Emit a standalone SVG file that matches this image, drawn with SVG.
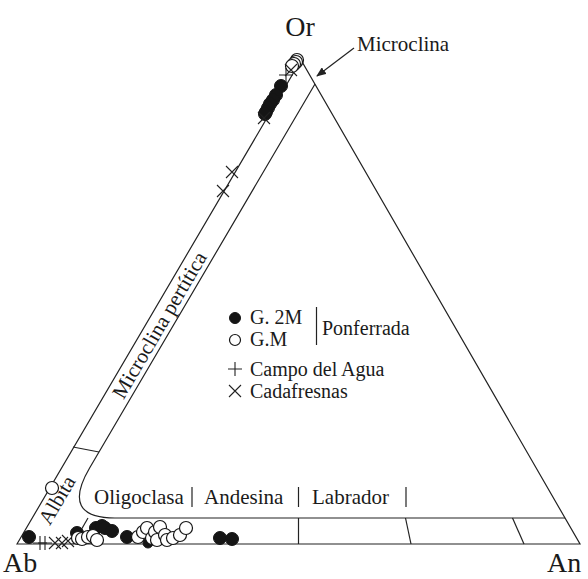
<svg xmlns="http://www.w3.org/2000/svg" width="588" height="579" viewBox="0 0 588 579">
<defs>
<style>
.ln{fill:none;stroke:#222;stroke-width:1.2}
.t{font-family:"Liberation Serif","Times New Roman",serif;fill:#1a1a1a;font-size:21px}
.lg{font-size:20px}
.big{font-size:28px}
.f{fill:#151515;stroke:#151515;stroke-width:1}
.o{fill:#fff;stroke:#151515;stroke-width:1.2}
.m{stroke:#222;stroke-width:1.1;fill:none}
</style>
<marker id="ah" markerWidth="10" markerHeight="8" refX="9" refY="4" orient="auto" markerUnits="userSpaceOnUse">
<path d="M0,0 L10,4 L0,8 Z" fill="#222"/>
</marker>
<symbol id="plus" overflow="visible"><path d="M-7,0 H7 M0,-7 V7" class="m"/></symbol>
<symbol id="cross" overflow="visible"><path d="M-6,-6 L6,6 M-6,6 L6,-6" class="m"/></symbol>
</defs>
<rect width="588" height="579" fill="#fff"/>

<g id="diagram-frame">
<polygon class="ln" points="17,544 301,60 580,544"/>
<path class="ln" d="M315,84 L89.6,468 Q60.3,518 115,518 L565,518"/>
<line class="ln" x1="73" y1="447" x2="99" y2="452"/>
<line class="ln" x1="88" y1="518" x2="73" y2="544"/>
<line class="ln" x1="298.5" y1="518" x2="298.5" y2="544"/>
<line class="ln" x1="405.5" y1="518" x2="411" y2="544"/>
<line class="ln" x1="512.5" y1="518" x2="524" y2="544"/>
<line class="ln" x1="192" y1="487" x2="192" y2="507"/>
<line class="ln" x1="298.5" y1="487" x2="298.5" y2="507"/>
<line class="ln" x1="406" y1="487" x2="406" y2="507"/>
</g>

<g id="connectors">
<line class="ln" x1="354" y1="48" x2="317" y2="76" marker-end="url(#ah)"/>
</g>

<g id="labels">
<text class="t big" x="300" y="36" text-anchor="middle">Or</text>
<text class="t big" x="3" y="572">Ab</text>
<text class="t big" x="547" y="572">An</text>
<text class="t" x="357" y="51">Microclina</text>
<text class="t" transform="translate(159.5,325) rotate(-59.6)" x="0" y="7" text-anchor="middle">Microclina pertítica</text>
<text class="t" transform="translate(57,500) rotate(-59.6)" x="0" y="7" text-anchor="middle">Albita</text>
<text class="t" x="94" y="504">Oligoclasa</text>
<text class="t" x="204" y="504">Andesina</text>
<text class="t" x="312" y="504">Labrador</text>
</g>

<g id="legend">
<circle class="f" cx="235" cy="318" r="5.5"/>
<circle class="o" cx="235" cy="340" r="5.5"/>
<use href="#plus" x="235" y="369"/>
<use href="#cross" x="235" y="391"/>
<text class="t lg" x="250" y="324">G. 2M</text>
<text class="t lg" x="250" y="346">G.M</text>
<line class="ln" x1="316.5" y1="307" x2="316.5" y2="345"/>
<text class="t lg" x="322" y="335">Ponferrada</text>
<text class="t lg" x="250" y="376">Campo del Agua</text>
<text class="t lg" x="250" y="398">Cadafresnas</text>
</g>

<g id="points-top">
<circle class="o" cx="297" cy="60" r="6.5"/>
<circle class="o" cx="296" cy="62" r="6.5"/>
<circle class="o" cx="294" cy="64" r="6.5"/>
<circle class="o" cx="292" cy="66" r="6.5"/>
<use href="#plus" x="286" y="75"/>
<use href="#cross" x="291" y="70"/>
<circle class="f" cx="281" cy="86" r="6.5"/>
<circle class="f" cx="276" cy="95" r="6.5"/>
<circle class="f" cx="273" cy="100" r="6.5"/>
<circle class="f" cx="270" cy="104" r="6.5"/>
<circle class="f" cx="268" cy="108" r="6.5"/>
<circle class="f" cx="266" cy="112" r="6.5"/>
<circle class="f" cx="265" cy="114" r="6.5"/>
<use href="#cross" x="264" y="118"/>
</g>

<g id="points-mid">
<use href="#cross" x="232" y="172"/>
<use href="#cross" x="223" y="191"/>
<circle class="o" cx="52" cy="488" r="6.5"/>
</g>

<g id="points-bottom">
<circle class="f" cx="29" cy="537" r="6.5"/>
<use href="#plus" x="40" y="543"/>
<use href="#plus" x="45" y="543"/>
<use href="#cross" x="55" y="543"/>
<use href="#cross" x="62" y="543"/>
<use href="#cross" x="68" y="541"/>
<circle class="f" cx="77" cy="533" r="6.5"/>
<circle class="f" cx="96" cy="528" r="6.5"/>
<circle class="f" cx="102" cy="526" r="6.5"/>
<circle class="f" cx="105" cy="528" r="6.5"/>
<circle class="f" cx="112" cy="531" r="6.5"/>
<circle class="o" cx="78" cy="538" r="6.5"/>
<circle class="o" cx="82" cy="539" r="6.5"/>
<circle class="o" cx="88" cy="537" r="6.5"/>
<circle class="o" cx="93" cy="536" r="6.5"/>
<circle class="o" cx="97" cy="540" r="6.5"/>
<circle class="f" cx="127" cy="537" r="6.5"/>
<circle class="f" cx="148" cy="543" r="5"/>
<circle class="o" cx="138" cy="537" r="6.5"/>
<circle class="o" cx="143" cy="532" r="6.5"/>
<circle class="o" cx="147" cy="528" r="6.5"/>
<circle class="o" cx="152" cy="538" r="6.5"/>
<circle class="o" cx="155" cy="532" r="6.5"/>
<circle class="o" cx="160" cy="527" r="6.5"/>
<circle class="o" cx="157" cy="540" r="6.5"/>
<circle class="o" cx="165" cy="535" r="6.5"/>
<circle class="o" cx="167" cy="540" r="6.5"/>
<circle class="o" cx="173" cy="538" r="6.5"/>
<circle class="o" cx="180" cy="535" r="6.5"/>
<circle class="o" cx="186" cy="528" r="6.5"/>
<circle class="f" cx="220" cy="538" r="6.5"/>
<circle class="f" cx="232" cy="539" r="6.5"/>
</g>
</svg>
